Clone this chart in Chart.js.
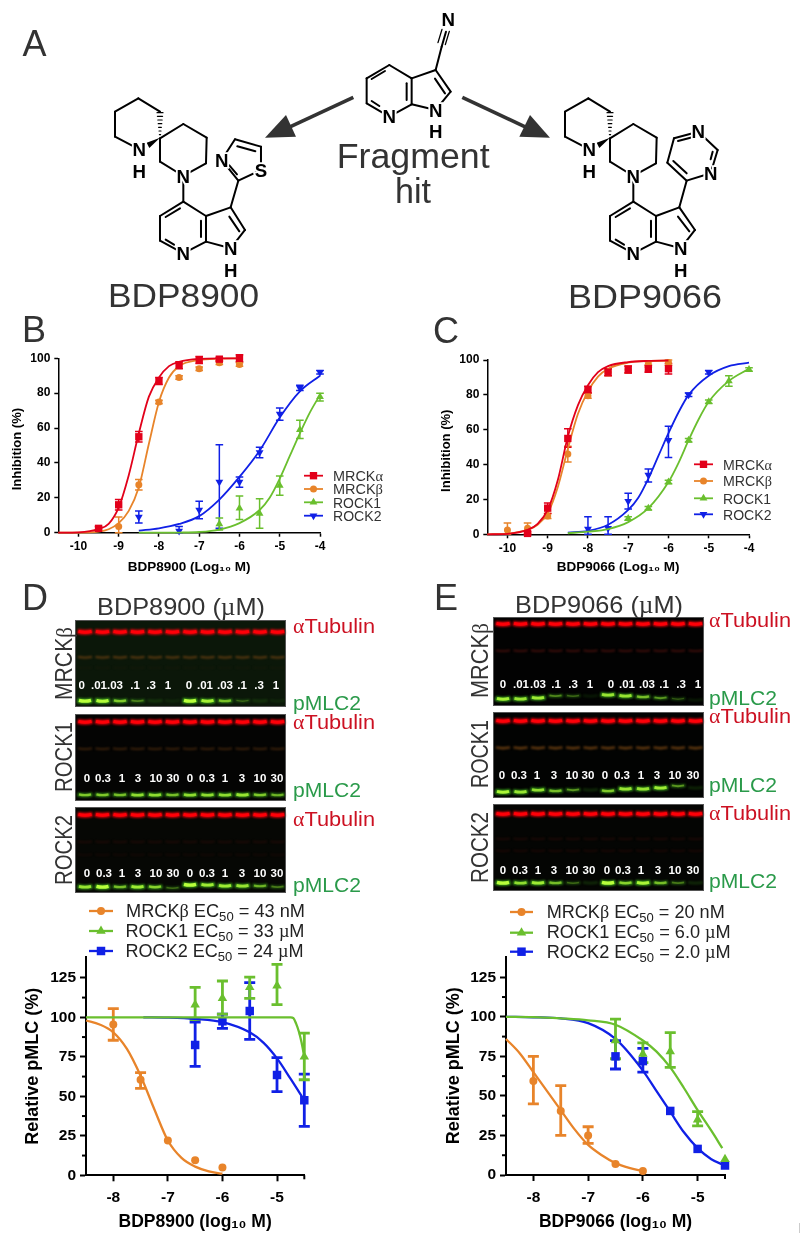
<!DOCTYPE html>
<html><head><meta charset="utf-8">
<style>
html,body{margin:0;padding:0;background:#fff;width:800px;height:1242px;overflow:hidden}
canvas,svg{position:absolute;display:block}
#marks{left:799px;top:1223px;width:1px;height:10px;background:#ccc;position:absolute}
</style>
<script src="https://cdn.jsdelivr.net/npm/chart.js@4/dist/chart.umd.js"></script>
</head><body>
<canvas id="blots" width="800" height="1242" style="left:0;top:0"></canvas>
<canvas id="cB" width="345" height="235" style="left:0;top:340px"></canvas>
<canvas id="cC" width="400" height="235" style="left:400px;top:340px"></canvas>
<canvas id="cD" width="400" height="342" style="left:0;top:900px"></canvas>
<canvas id="cE" width="400" height="342" style="left:400px;top:900px"></canvas>
<svg id="art" width="800" height="1242" style="left:0;top:0"></svg>
<div id="marks"></div>
<script>
/* ---------- colours ---------- */
const RED='#E2001A', ORANGE='#E8842A', GREEN='#6ABF2E', BLUE='#1020E6';

/* ---------- Panel B: BDP8900 kinase inhibition ---------- */
const bMrckaX=[-9.5,-9,-8.5,-8,-7.5,-7,-6.5,-6];
const bMrckaY=[2.5,16,55,87,96,99,99.5,100];
const bMrckaLow=[1.5,13,52,85,94,97,98.5,98];
const bMrckaHigh=[3.5,19,58,89,98,101,100.5,102];
const bMrckbX=[-9,-8.5,-8,-7.5,-7,-6.5,-6];
const bMrckbY=[3.5,27.5,75,89,94,97.5,96.5];
const bMrckbLow=[0,24.5,74,88,93,96.5,95.5];
const bMrckbHigh=[9,30.5,76,90,95,98.5,97.5];
const bRock1X=[-6.5,-6,-5.5,-5,-4.5,-4];
const bRock1Y=[5,14,11,27,59,78];
const bRock1Low=[1.5,7.5,2.5,21.5,54,75.5];
const bRock1High=[8.5,21,19.5,32.5,64.5,80];
const bRock2X=[-8.5,-7.5,-7,-6.5,-6,-5.5,-5,-4.5,-4];
const bRock2Y=[9,1,13,29,29,46,68,83,92];
const bRock2Low=[5.5,-0.5,8,2.5,26,43,64.5,81.5,91];
const bRock2High=[12.5,3.5,18,50.5,32,49,71.5,84.5,93];
const bCurveAX=[-10.5,-10,-9.5,-9.25,-9,-8.75,-8.5,-8.25,-8,-7.75,-7.5,-7,-6.5,-6];
const bCurveAY=[0,0.2,2,5,14.5,33,57,78,89,95.5,98,99.7,100,100];
const bCurveBX=[-10.5,-10,-9.5,-9.25,-9,-8.75,-8.5,-8.25,-8,-7.75,-7.5,-7,-6.5,-6];
const bCurveBY=[0,0,0.6,2,5.5,12.5,26,51,75,89,95.5,99,99.8,100];
const bCurve1X=[-8.5,-7.5,-7,-6.5,-6,-5.5,-5.25,-5,-4.75,-4.5,-4.25,-4];
const bCurve1Y=[0,0.1,0.4,1.8,5.5,13,20,31,44,57,69,79];
const bCurve2X=[-8.5,-8,-7.5,-7,-6.5,-6,-5.5,-5,-4.5,-4];
const bCurve2Y=[1.2,2.5,5,9.5,19,32,47,66,81,90];
const bTicksX=[-10,-9,-8,-7,-6,-5,-4];

/* ---------- Panel C: BDP9066 kinase inhibition ---------- */
const cMrckaX=[-9.5,-9,-8.5,-8,-7.5,-7,-6.5,-6];
const cMrckaY=[0.5,15,55,83,93,94.5,95,95];
const cMrckaLow=[0,12,50,81,91,92.5,93,92];
const cMrckaHigh=[1.5,18,60.5,85,95,96.5,97,98];
const cMrckbX=[-10,-9.5,-9,-8.5,-8,-7.5,-7,-6.5,-6];
const cMrckbY=[2.5,3.5,10.5,46,79.5,93,94.5,97.5,98.5];
const cMrckbLow=[-1,0.5,9,41.5,78,91,92.5,96,97];
const cMrckbHigh=[6.5,6.5,12,50.5,81,95,96.5,99,100];
const cRock1X=[-7,-6.5,-6,-5.5,-5,-4.5,-4];
const cRock1Y=[9,15,30,54,76,88,94.5];
const cRock1Low=[8,14,29,53,75,85,93.5];
const cRock1High=[10,16,31,55,77,91,95.5];
const cRock2X=[-8,-7.5,-7,-6.5,-6,-5.5,-5];
const cRock2Y=[3,3.5,19,34,54,80,93];
const cRock2Low=[0,0,14.5,30,44,79,92];
const cRock2High=[10,10,23.5,37.5,62,81,94];
const cCurveAX=[-10.5,-10,-9.5,-9.25,-9,-8.75,-8.5,-8.25,-8,-7.75,-7.5,-7,-6.5,-6];
const cCurveAY=[0,0.3,2.5,6,14,31,56,74,85.5,93,96.5,98.8,99.5,99.7];
const cCurveBX=[-10.5,-10,-9.5,-9.25,-9,-8.75,-8.5,-8.25,-8,-7.75,-7.5,-7,-6.5,-6];
const cCurveBY=[0,0.4,2.5,5.5,12,27,49,69,82,90.5,95,98.5,99.4,99.6];
const cCurve1X=[-8.5,-8,-7.5,-7,-6.5,-6,-5.75,-5.5,-5.25,-5,-4.5,-4];
const cCurve1Y=[0.6,1.5,3,7,15,30,41,54,66,76,88,95];
const cCurve2X=[-8.5,-8,-7.5,-7,-6.75,-6.5,-6.25,-6,-5.75,-5.5,-5,-4.5,-4];
const cCurve2Y=[1,2,5.5,14,21,32,45,58,70,80,91,96.5,98.5];
const cTicksX=[-10,-9,-8,-7,-6,-5,-4];

/* ---------- Panel D: BDP8900 cellular pMLC ---------- */
const dMrckbX=[-8,-7.5,-7,-6.5,-6];
const dMrckbY=[95.5,60.5,22,9.5,5];
const dMrckbLow=[85.5,55,null,null,null];
const dMrckbHigh=[105.5,65,null,null,null];
const dRock1X=[-6.5,-6,-5.5,-5,-4.5];
const dRock1Y=[108,112,119,120,75];
const dRock1Low=[98.5,102,112,108,60.5];
const dRock1High=[119,123,125.5,133.5,90];
const dRock2X=[-6.5,-6,-5.5,-5,-4.5];
const dRock2Y=[82.5,97.5,104,63.5,47.5];
const dRock2Low=[69,93,86,53,31];
const dRock2High=[97,102,122,74.5,64];
const dCurveBX=[-8.5,-8.25,-8,-7.75,-7.5,-7.25,-7,-6.75,-6.5,-6.25,-6];
const dCurveBY=[98,95.5,90.5,80,63,42,22,11,5.5,2.5,1];
const dCurve1X=[-8.5,-7,-5,-4.75,-4.7,-4.65,-4.6,-4.55,-4.5];
const dCurve1Y=[100,100,100,100,99.5,96,91,84,75];
const dCurve2X=[-7.45,-7,-6.5,-6,-5.5,-5.25,-5,-4.75,-4.5];
const dCurve2Y=[100,99.8,99,97,90.5,84,74,61,47.5];
const eMinorX=[-4.5];

/* ---------- Panel E: BDP9066 cellular pMLC ---------- */
const eMrckbX=[-8,-7.5,-7,-6.5,-6];
const eMrckbY=[59.5,40.5,25,7,2.5];
const eMrckbLow=[45,25,20,null,null];
const eMrckbHigh=[75,56.5,30.5,null,null];
const eRock1X=[-6.5,-6,-5.5,-5,-4.5];
const eRock1Y=[85,76.5,78,35,10];
const eRock1Low=[73.5,71,68,31,null];
const eRock1High=[98.5,83.5,90,40,null];
const eRock2X=[-6.5,-6,-5.5,-5,-4.5];
const eRock2Y=[75,72,40.5,16.5,6];
const eRock2Low=[67,65,null,null,null];
const eRock2High=[85,80,null,null,null];
const eCurveBX=[-8.5,-8.25,-8,-7.75,-7.5,-7.25,-7,-6.75,-6.5,-6.25,-6];
const eCurveBY=[86,77,65,53,41,29,19,12.5,7.5,4.5,2.5];
const eCurve1X=[-8.5,-8,-7.5,-7,-6.5,-6,-5.75,-5.5,-5.25,-5,-4.75,-4.55];
const eCurve1Y=[100,99.8,99,97.8,95,85,78,68,55,41,28,17];
const eCurve2X=[-8.5,-8,-7.5,-7,-6.5,-6,-5.75,-5.5,-5.25,-5,-4.75,-4.5];
const eCurve2Y=[100,99.7,99,96,86,66,53,40,27,17,10,6];

const cellTicksX=[-8,-7,-6,-5];
const cellMinorY=[12.5,37.5,62.5,87.5,112.5];
const inhibTicksY=[0,20,40,60,80,100];
const cellTicksY=[0,25,50,75,100,125];

/* ---------- Blot band intensities (lanes left to right) ---------- */
const dGreenMrckb=[1,.95,.6,.3,.12,.04,1,.85,.55,.22,.1,.04];
const dGreenRock1=[.6,.6,.55,.7,.7,.55,.7,.7,.7,.75,.6,.5];
const dGreenRock2=[.75,1,.55,.8,.65,.25,1,.8,.8,.75,.5,.3];
const eGreenMrckb=[.85,.75,.8,.35,.25,.05,.75,.75,.55,.4,.2,.05];
const eGreenRock1=[.9,.75,.7,.55,.4,.12,.6,.75,.75,.8,.4,.1];
const eGreenRock2=[1,.7,.8,.55,.25,.12,1,.65,.9,.55,.3,.12];
const doseMrckb=['0','.01','.03','.1','.3','1','0','.01','.03','.1','.3','1'];
const doseRock=['0','0.3','1','3','10','30','0','0.3','1','3','10','30'];

/* ---------- chart helpers ---------- */
const FONT='Liberation Sans';
const pts=(xs,ys)=>xs.map((x,i)=>({x,y:ys[i]}));

function series(label,color,style,rotation,radius,px,py,low,high,cx,cy){
  return {label,color,style,rotation,radius,px,py,low,high,cx,cy};
}
function makeChart(id,o){
  const datasets=[];
  o.series.forEach(s=>{
    datasets.push({label:s.label,data:pts(s.px,s.py),showLine:false,backgroundColor:s.color,borderColor:s.color,
      pointStyle:s.style,pointRotation:s.rotation,pointRadius:s.radius,pointBorderWidth:0,clip:false});
    datasets.push({label:s.label+' fit',data:pts(s.cx,s.cy),showLine:true,borderColor:s.color,borderWidth:o.lineW,
      cubicInterpolationMode:'monotone',pointRadius:0,clip:false});
  });
  const overlay={id:'overlay',
    beforeDatasetsDraw(ch){
      const c=ch.ctx,X=ch.scales.x,Y=ch.scales.y;
      c.save();
      // minor ticks
      c.strokeStyle='#000';c.lineWidth=o.axisW;
      (o.minorY||[]).forEach(v=>{const p=Y.getPixelForValue(v);c.beginPath();c.moveTo(X.left,p);c.lineTo(X.left-o.minorLen,p);c.stroke();});
      (o.minorX||[]).forEach(v=>{const p=X.getPixelForValue(v);c.beginPath();c.moveTo(p,Y.bottom);c.lineTo(p,Y.bottom+o.minorLen);c.stroke();});
      // error bars
      c.lineWidth=o.errW;
      o.series.slice().reverse().forEach(s=>{
        c.strokeStyle=s.color;
        s.px.forEach((x,i)=>{
          if(s.low[i]==null) return;
          const px=X.getPixelForValue(x),lo=Y.getPixelForValue(Math.max(s.low[i],0)),hi=Y.getPixelForValue(s.high[i]);
          c.beginPath();c.moveTo(px,lo);c.lineTo(px,hi);
          c.moveTo(px-o.cap,lo);c.lineTo(px+o.cap,lo);
          c.moveTo(px-o.cap,hi);c.lineTo(px+o.cap,hi);c.stroke();
        });
      });
      c.restore();
    },
    afterDatasetsDraw(ch){
      const c=ch.ctx;
      c.save();
      o.series.forEach((s,i)=>{
        const y=o.legendY[i];
        c.strokeStyle=s.color;c.lineWidth=o.lineW;
        c.beginPath();c.moveTo(o.legendX[0],y);c.lineTo(o.legendX[1],y);c.stroke();
        c.fillStyle=s.color;
        Chart.helpers.drawPoint(c,{pointStyle:s.style,rotation:s.rotation,radius:s.radius,borderWidth:0},(o.legendX[0]+o.legendX[1])/2,y);
      });
      c.restore();
    }};
  return new Chart(document.getElementById(id),{
    type:'scatter',
    data:{datasets},
    plugins:[overlay],
    options:{
      responsive:false,animation:false,devicePixelRatio:1,
      layout:{padding:{left:o.padLeft,top:o.padTop,right:o.padRight,bottom:0}},
      plugins:{legend:{display:false},title:{display:false},tooltip:{enabled:false}},
      scales:{
        x:{type:'linear',min:o.xMin,max:o.xMax,
          afterFit:s=>{s.height=o.xH;},
          border:{display:true,color:'#000',width:o.axisW},
          grid:{drawOnChartArea:false,drawTicks:true,tickLength:o.tickLen,tickWidth:o.axisW,tickColor:'#000'},
          afterBuildTicks:s=>{s.ticks=o.ticksX.map(v=>({value:v}));},
          ticks:{maxRotation:0,autoSkip:false,padding:o.tickPadX,color:'#000',font:{family:FONT,weight:'bold',size:o.tickFont},callback:v=>String(v)},
          title:{display:true,text:o.xTitle,color:'#000',font:{family:FONT,weight:'bold',size:o.xTitleFont},padding:{top:0,bottom:o.xTitlePad}}},
        y:{type:'linear',min:0,max:o.yMax,
          afterFit:s=>{s.width=o.yW;},
          border:{display:true,color:'#000',width:o.axisW},
          grid:{drawOnChartArea:false,drawTicks:true,tickLength:o.tickLen,tickWidth:o.axisW,tickColor:'#000'},
          afterBuildTicks:s=>{s.ticks=o.ticksY.map(v=>({value:v}));},
          ticks:{autoSkip:false,padding:o.tickPadY,color:'#000',font:{family:FONT,weight:'bold',size:o.tickFont},callback:v=>String(v)},
          title:{display:true,text:o.yTitle,color:'#000',font:{family:FONT,weight:'bold',size:o.yTitleFont},padding:{top:o.yTitlePad,bottom:0}}}
      }
    }
  });
}

const INHIB='Inhibition (%)\u00A0\u00A0';
const smallChart={lineW:1.8,errW:1.5,cap:3.8,axisW:1.5,tickLen:4,tickFont:12,xH:42.3,xTitleFont:13.5,yTitleFont:13,tickPadX:3,tickPadY:4,xTitlePad:0,padRight:25,yMax:100,ticksY:inhibTicksY,padTop:18.3};
makeChart('cB',Object.assign({},smallChart,{
  padLeft:0,yW:58.3,xMin:-10.5,xMax:-4,ticksX:bTicksX,xTitle:'BDP8900 (Log₁₀ M)',yTitle:INHIB,yTitlePad:9.5,
  legendX:[304,323],legendY:[135.7,149,162.3,175.7],
  series:[
   series('MRCKα',RED,'rect',0,5.2,bMrckaX,bMrckaY,bMrckaLow,bMrckaHigh,bCurveAX,bCurveAY),
   series('MRCKβ',ORANGE,'circle',0,3.5,bMrckbX,bMrckbY,bMrckbLow,bMrckbHigh,bCurveBX,bCurveBY),
   series('ROCK1',GREEN,'triangle',0,4.5,bRock1X,bRock1Y,bRock1Low,bRock1High,bCurve1X,bCurve1Y),
   series('ROCK2',BLUE,'triangle',180,4.5,bRock2X,bRock2Y,bRock2Low,bRock2High,bCurve2X,bCurve2Y)]}));
makeChart('cC',Object.assign({},smallChart,{
  padLeft:0,yW:87.3,xMin:-10.5,xMax:-4,ticksX:cTicksX,xTitle:'BDP9066 (Log₁₀ M)',yTitle:INHIB,yTitlePad:39,padRight:51,padTop:20,xH:40.7,
  legendX:[294,313],legendY:[124.3,141,158.3,174.3],
  series:[
   series('MRCKα',RED,'rect',0,5.2,cMrckaX,cMrckaY,cMrckaLow,cMrckaHigh,cCurveAX,cCurveAY),
   series('MRCKβ',ORANGE,'circle',0,3.5,cMrckbX,cMrckbY,cMrckbLow,cMrckbHigh,cCurveBX,cCurveBY),
   series('ROCK1',GREEN,'triangle',0,4.5,cRock1X,cRock1Y,cRock1Low,cRock1High,cCurve1X,cCurve1Y),
   series('ROCK2',BLUE,'triangle',180,4.5,cRock2X,cRock2Y,cRock2Low,cRock2High,cCurve2X,cCurve2Y)]}));

const bigChart={lineW:2.3,errW:2.8,cap:5.5,axisW:2,tickLen:6,tickFont:15.5,xTitleFont:17.5,yTitleFont:18,tickPadX:7,tickPadY:4,xTitlePad:9,yMax:138,ticksY:cellTicksY,minorY:cellMinorY,minorX:eMinorX,minorLen:4,padLeft:0,xMin:-8.5,xMax:-4.5,ticksX:cellTicksX};
makeChart('cD',Object.assign({},bigChart,{
  padTop:57.3,padRight:95.7,yW:86,xH:66.7,xTitle:'BDP8900 (log₁₀ M)',yTitle:'Relative pMLC (%)',yTitlePad:22,
  legendX:[89,113],legendY:[11,31,51],
  series:[
   series('MRCKβ',ORANGE,'circle',0,4,dMrckbX,dMrckbY,dMrckbLow,dMrckbHigh,dCurveBX,dCurveBY),
   series('ROCK1',GREEN,'triangle',0,5.5,dRock1X,dRock1Y,dRock1Low,dRock1High,dCurve1X,dCurve1Y),
   series('ROCK2',BLUE,'rect',0,6,dRock2X,dRock2Y,dRock2Low,dRock2High,dCurve2X,dCurve2Y)]}));
makeChart('cE',Object.assign({},bigChart,{
  padTop:56.7,padRight:75,yW:106,xH:67,xTitle:'BDP9066 (log₁₀ M)',yTitle:'Relative pMLC (%)',yTitlePad:43,
  legendX:[110,133],legendY:[12,32.7,51.7],
  series:[
   series('MRCKβ',ORANGE,'circle',0,4,eMrckbX,eMrckbY,eMrckbLow,eMrckbHigh,eCurveBX,eCurveBY),
   series('ROCK1',GREEN,'triangle',0,5.5,eRock1X,eRock1Y,eRock1Low,eRock1High,eCurve1X,eCurve1Y),
   series('ROCK2',BLUE,'rect',0,6,eRock2X,eRock2Y,eRock2Low,eRock2High,eCurve2X,eCurve2Y)]}));

/* ---------- Western blots (background image layer) ---------- */
(function(){
  const c=document.getElementById('blots').getContext('2d');
  function band(cx,y,w,t,color,blur){
    c.filter='blur('+blur+'px)';
    c.strokeStyle=color;c.lineWidth=t;c.lineCap='butt';
    c.beginPath();c.moveTo(cx-w/2,y-.6);c.quadraticCurveTo(cx,y+1,cx+w/2,y-.6);c.stroke();
    c.filter='none';
  }
  function blot(b){
    c.fillStyle=b.bg;c.fillRect(b.x,b.y,b.w,b.h);
    for(let i=0;i<12;i++){
      const cx=b.lane0+i*b.step, sh=(b.shift?b.shift[i]:0);
      band(cx,b.redY,15,5,'#e6000a',.8);
      band(cx,b.redY,13,3,'#ff0008',.4);
      b.faint.forEach(f=>band(cx,f[0],14,f[2],f[1],.9));
      const g=b.green[i];
      if(g>.02){
        band(cx,b.greenY+sh,15,2.4+2.6*g,'rgba(60,170,25,'+Math.min(1,g*1.1+.1)+')',1);
        if(g>.15) band(cx,b.greenY+sh,12,1+2.2*g,'rgba(185,255,60,'+g+')',.6);
      }
    }
    c.strokeStyle='#555';c.lineWidth=1;c.strokeRect(b.x+.5,b.y+.5,b.w-1,b.h-1);
  }
  c.fillStyle='#fff';c.fillRect(0,0,800,1242);
  const amber='rgba(125,72,20,.8)',brick='rgba(95,20,15,.7)',dim='rgba(60,15,10,.55)';
  blot({x:75,y:620,w:211,h:87,bg:'#0b1709',lane0:85,step:17.5,redY:632,faint:[[657.5,amber,1.8],[668,'rgba(35,30,10,.5)',1.2]],greenY:701,green:dGreenMrckb});
  blot({x:75,y:714,w:211,h:87,bg:'#040403',lane0:85,step:17.5,redY:722,faint:[[749,'rgba(90,50,15,.7)',1.7]],greenY:795,green:dGreenRock1});
  blot({x:75,y:807,w:211,h:86,bg:'#060704',lane0:85,step:17.5,redY:815,faint:[[842,dim,1.5],[855,'rgba(50,12,8,.5)',1.3]],greenY:886,green:dGreenRock2,shift:[1,1,1,1,1,2,-1,-1,0,0,0,1]});
  blot({x:493,y:617,w:211,h:89,bg:'#020202',lane0:503,step:17.5,redY:624,faint:[[651,brick,1.7]],greenY:699,green:eGreenMrckb,shift:[0,0,-1,-3,-3,-3,-4,-3,-2,-1,0,1]});
  blot({x:493,y:712,w:211,h:86,bg:'#020302',lane0:503,step:17.5,redY:721,faint:[[748,amber,2.4]],greenY:792,green:eGreenRock1,shift:[0,0,-2,-1,-2,-2,-1,-3,-3,-4,-6,-4]});
  blot({x:493,y:804,w:211,h:87,bg:'#040503',lane0:503,step:17.5,redY:814,faint:[[839,dim,1.5],[851,'rgba(70,10,8,.5)',1.3]],greenY:883,green:eGreenRock2});
})();

/* ---------- SVG layer: text and structure drawings ---------- */
const G=t=>`<tspan font-family="Liberation Serif">${t}</tspan>`;
const EC=(s)=>`EC<tspan dy="4" font-size="${s*.72}">50</tspan><tspan dy="-4"> </tspan>`;
let svg='';
function T(s,x,y,size,o={}){
  const a=[`x="${x}"`,`y="${y}"`,`font-size="${size}"`,`fill="${o.fill||'#333'}"`,`font-family="Liberation Sans"`];
  if(o.len) a.push(`textLength="${o.len}" lengthAdjust="spacingAndGlyphs"`);
  if(o.anchor) a.push(`text-anchor="${o.anchor}"`);
  if(o.weight) a.push(`font-weight="${o.weight}"`);
  if(o.rot) a.push(`transform="rotate(${o.rot} ${x} ${y})"`);
  svg+=`<text ${a.join(' ')}>${s}</text>`;
}
// panel letters
T('A',22.5,56,36);T('B',22,342,36);T('C',433,343,36);T('D',22,610,36);T('E',434,610,36);
T('Fragment',336.7,168,35,{len:153});T('hit',395,203,35,{len:36});
T('BDP8900',108,306.7,34,{len:151});T('BDP9066',568,308,34,{len:154});
T(`BDP8900 (${G('µ')}M)`,97,615,24.5,{len:168});T(`BDP9066 (${G('µ')}M)`,515,613,24.5,{len:168});
// blot side labels
const TUB='#CC1122',PM='#2A9A4A';
[[293,633],[293,729],[293,826],[709,627],[709,723],[709,820]].forEach(p=>T(`${G('α')}Tubulin`,p[0],p[1],20.5,{fill:TUB,len:82}));
[[293,710],[293,797],[293,892],[709,705],[709,792],[709,888]].forEach(p=>T('pMLC2',p[0],p[1],20.5,{fill:PM,len:68}));
[[72,700,`MRCK${G('β')}`,73],[72,792,'ROCK1',70],[72,885,'ROCK2',70],[488,698,`MRCK${G('β')}`,75],[488,788,'ROCK1',68],[488,883,'ROCK2',71]]
 .forEach(p=>T(p[2],p[0],p[1],23,{rot:-90,len:p[3]}));
// dose labels
const doseD1=[81.7,99,115,135,151,168,189,205,225,242,259,276];
const doseD2=[87,103,122,138,156,173,190,207,225,242,260,277];
const doseD3=[87,104,122,138,156,173,190,207,225,242,260,277];
const doseE1=[503,521,538,556,573,590,611,627,647,664,681,698];
const doseE2=[502,519,537,554,572,588,605,622,641,657,675,693];
const doseE3=[503,520,538,554,572,589,607,623,641,658,675,693];
[[doseD1,doseMrckb,689],[doseD2,doseRock,782],[doseD3,doseRock,877],[doseE1,doseMrckb,688],[doseE2,doseRock,779],[doseE3,doseRock,874]]
 .forEach(r=>r[0].forEach((x,i)=>T(r[1][i],x,r[2],11.5,{fill:'#fff',weight:'bold',anchor:'middle'})));
// legends B, C
[[333,480.5,`MRCK${G('α')}`,50],[333,494,`MRCK${G('β')}`,50],[333,507.5,'ROCK1',48],[333,521,'ROCK2',48.5],
 [723,469.5,`MRCK${G('α')}`,49],[723,486,`MRCK${G('β')}`,49],[723,503.5,'ROCK1',48],[723,519.5,'ROCK2',48.5]]
 .forEach(p=>T(p[2],p[0],p[1],14,{len:p[3]}));
// legends D, E
[[126,917,`MRCK${G('β')} ${EC(18)}= 43 nM`,179],[125.5,937,`ROCK1 ${EC(18)}= 33 ${G('µ')}M`,179],[125.5,957,`ROCK2 ${EC(18)}= 24 ${G('µ')}M`,178],
 [546.7,918,`MRCK${G('β')} ${EC(18)}= 20 nM`,178],[546.7,938,`ROCK1 ${EC(18)}= 6.0 ${G('µ')}M`,184],[546.7,958,`ROCK2 ${EC(18)}= 2.0 ${G('µ')}M`,184]]
 .forEach(p=>T(p[2],p[0],p[1],18,{len:p[3],fill:'#222'}));

// structures (zoomed drawing units, scale 1/3)
function L(a,b,c,d,w){return `<line x1="${a}" y1="${b}" x2="${c}" y2="${d}" stroke="#000" stroke-width="${w||6}" stroke-linecap="round"/>`;}
function poly(p){let s='';for(let i=0;i<p.length-1;i++)s+=L(p[i][0],p[i][1],p[i+1][0],p[i+1][1]);return s;}
function lab(t,x,y,f){return `<text x="${x}" y="${y+20}" text-anchor="middle" font-family="Liberation Sans" font-weight="bold" font-size="${f||56}" fill="#000" stroke="#fff" stroke-width="11" paint-order="stroke">${t}</text>`;}
function core(px){
  let s='';
  s+=poly([[118,178],[45,140],[45,65],[115,25],[180,65]]);
  for(let i=0;i<7;i++){const y=68+i*11,h=9*(1-i/7.5);s+=L(180-h,y,180+h,y,3.5);}
  s+=`<polygon points="180,143 140,158 148,174" fill="#000"/>`;
  s+=poly([[180,145],[250,102],[320,143],[318,220],[250,258],[180,215],[180,145]]);
  s+=L(250,258,250,335);
  s+=poly([[250,335],[180,378],[180,452],[250,490],[318,455],[318,378],[250,335]]);
  s+=L(240,355,197,381)+L(197,449,222,464)+L(303,392,303,441);
  s+=poly([[318,378],[px,352],[435,420],[392,475],[318,455]]);
  s+=L(px-4,380,418,424);
  return s;
}
function coreLabels(){return lab('N',118,178)+lab('H',118,245)+lab('N',250,258)+lab('N',250,490)+lab('N',392,475)+lab('H',392,542);}
const thiazole=poly([[392,352],[415,272],[365,210],[405,148],[483,170],[483,240],[415,272]])+L(411,253,388,226)+L(412,169,466,184);
const thiazoleLabels=lab('N',365,210)+lab('S',483,240);
const pyrimidine=poly([[388,352],[410,272],[482,250],[503,180],[445,125],[372,145],[352,218],[410,272]])+L(370,213,410,250)+L(384,153,430,141)+L(482,208,488,185);
const pyrimidineLabels=lab('N',482,250)+lab('N',445,125);
svg+=`<g transform="translate(100 90) scale(.3333)">${core(392)}${thiazole}${coreLabels()}${thiazoleLabels}</g>`;
svg+=`<g transform="translate(550 90) scale(.3333)">${core(388)}${pyrimidine}${coreLabels()}${pyrimidineLabels}</g>`;
// fragment + arrows
svg+=`<g transform="translate(260 0) scale(.3333)">`
 +poly([[388,195],[320,235],[320,310],[388,350],[455,313],[455,235],[388,195]])
 +L(375,213,335,237)+L(335,303,358,318)+L(440,250,440,300)
 +poly([[455,235],[527,210],[572,275],[527,330],[455,313]])+L(525,236,555,280)
 +L(527,210,545,140)+L(545,140,558,95)+L(534,128,546,88,4)+L(556,134,568,94,4)
 +lab('N',388,350)+lab('N',527,330)+lab('H',527,395)+lab('N',565,58)
 +`<line x1="280" y1="292" x2="85" y2="383" stroke="#333" stroke-width="11"/><polygon points="15,413 78,345 108,410" fill="#333"/>`
 +`<line x1="607" y1="292" x2="805" y2="385" stroke="#333" stroke-width="11"/><polygon points="870,413 810,345 778,410" fill="#333"/>`
 +`</g>`;
document.getElementById('art').innerHTML=svg;
</script>
</body></html>
